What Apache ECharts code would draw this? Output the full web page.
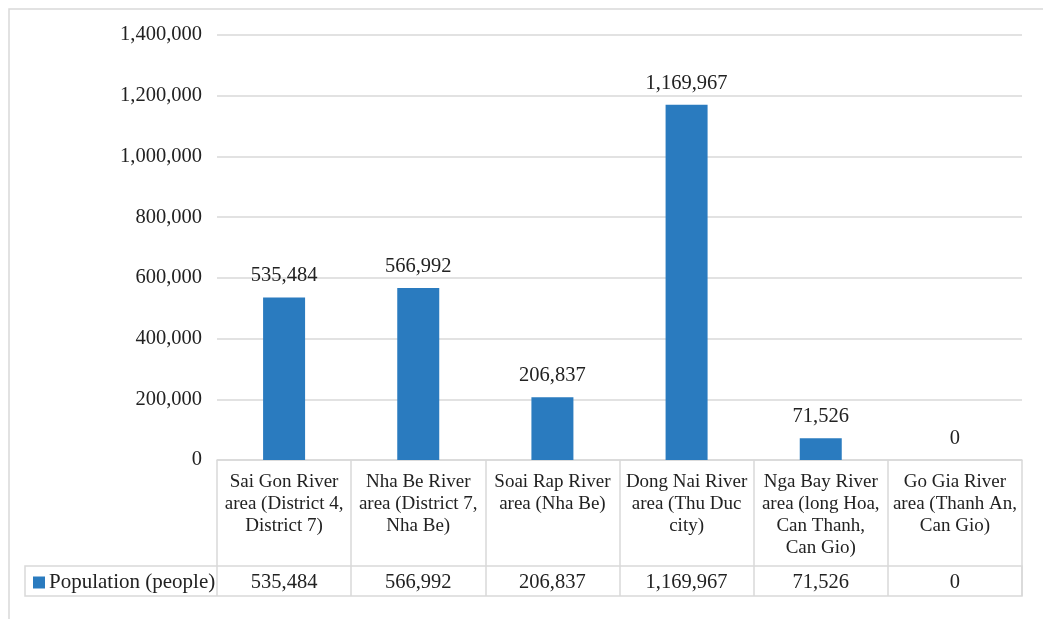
<!DOCTYPE html>
<html>
<head>
<meta charset="utf-8">
<title>Population by river area</title>
<script src="https://cdn.jsdelivr.net/npm/echarts@6/dist/echarts.min.js"></script>
<style>
  html, body { margin: 0; padding: 0; background: #fff; }
  #chart { width: 1043px; height: 619px; }
</style>
</head>
<body>
<div id="chart"></div>
<script>
// River areas (table header text, with its line breaks)
const categories = [
  'Sai Gon River\narea (District 4,\nDistrict 7)',
  'Nha Be River\narea (District 7,\nNha Be)',
  'Soai Rap River\narea (Nha Be)',
  'Dong Nai River\narea (Thu Duc\ncity)',
  'Nga Bay River\narea (long Hoa,\nCan Thanh,\nCan Gio)',
  'Go Gia River\narea (Thanh An,\nCan Gio)'
];
const seriesName = 'Population (people)';
const population = [535484, 566992, 206837, 1169967, 71526, 0];
const yTicks = { min: 0, max: 1400000, interval: 200000 };

const SERIF = '"Liberation Serif", "Times New Roman", serif';
const TEXT = '#222';
const RULE = '#d9d9d9';
const BLUE = '#2a7bbf';
const fmt = v => Number(v).toLocaleString('en-US');

const W = 1043, H = 619;
const GRID = { left: 217, right: 21, top: 35, bottom: 159 };
const axisY = H - GRID.bottom;          // y of the zero line
const headerH = 106;                     // category header row height
const valueH = 30;                       // value row height

const chart = echarts.init(document.getElementById('chart'), null, { renderer: 'canvas' });

chart.setOption({
  animation: false,
  backgroundColor: '#fff',
  textStyle: { fontFamily: SERIF, color: TEXT },
  grid: GRID,
  legend: {
    data: [seriesName],
    left: 33,
    top: axisY + headerH + 6,
    icon: 'rect',
    itemWidth: 12,
    itemHeight: 12,
    itemGap: 4,
    padding: 0,
    selectedMode: false,
    textStyle: { fontFamily: SERIF, fontSize: 21, color: TEXT, padding: [0, 0, 0, -1] }
  },
  xAxis: [
    {
      type: 'category',
      data: categories,
      position: 'bottom',
      axisLine: { show: true, lineStyle: { color: RULE, width: 1.5 } },
      axisTick: {
        show: true, interval: 0, inside: false,
        length: headerH + valueH,
        lineStyle: { color: RULE, width: 1.5 }
      },
      axisLabel: {
        interval: 0,
        margin: 11,
        verticalAlign: 'top',
        lineHeight: 22,
        fontFamily: SERIF,
        fontSize: 19,
        color: TEXT,
        align: 'center'
      }
    },
    {
      // value row of the data table
      type: 'category',
      data: population.map(fmt),
      position: 'bottom',
      offset: headerH,
      axisLine: { show: false },
      axisTick: { show: false },
      axisLabel: {
        interval: 0,
        margin: 17,
        verticalAlign: 'middle',
        fontFamily: SERIF,
        fontSize: 20.5,
        color: TEXT
      }
    }
  ],
  yAxis: {
    type: 'value',
    min: yTicks.min,
    max: yTicks.max,
    interval: yTicks.interval,
    axisLine: { show: false },
    axisTick: { show: false },
    axisLabel: {
      margin: 15,
      fontFamily: SERIF,
      fontSize: 20.5,
      color: TEXT,
      padding: [5, 0, 0, 0],
      formatter: v => fmt(v)
    },
    splitLine: { lineStyle: { color: RULE, width: 1.5 } }
  },
  series: [
    {
      name: seriesName,
      type: 'bar',
      xAxisIndex: 0,
      data: population,
      barWidth: 42,
      itemStyle: { color: BLUE },
      label: {
        show: true,
        position: 'top',
        distance: 11,
        fontFamily: SERIF,
        fontSize: 20.5,
        color: TEXT,
        formatter: p => fmt(p.value)
      }
    }
  ],
  graphic: [
    {
      // outer chart frame
      type: 'rect',
      silent: true,
      shape: { x: 9, y: 9, width: W + 20, height: H + 20 },
      style: { fill: 'none', stroke: RULE, lineWidth: 1.5 }
    },
    {
      // value row of the data table, including the legend cell
      type: 'rect',
      silent: true,
      shape: { x: 25, y: axisY + headerH, width: (W - GRID.right) - 25, height: valueH },
      style: { fill: 'none', stroke: RULE, lineWidth: 1.5 }
    }
  ]
});
</script>
</body>
</html>
